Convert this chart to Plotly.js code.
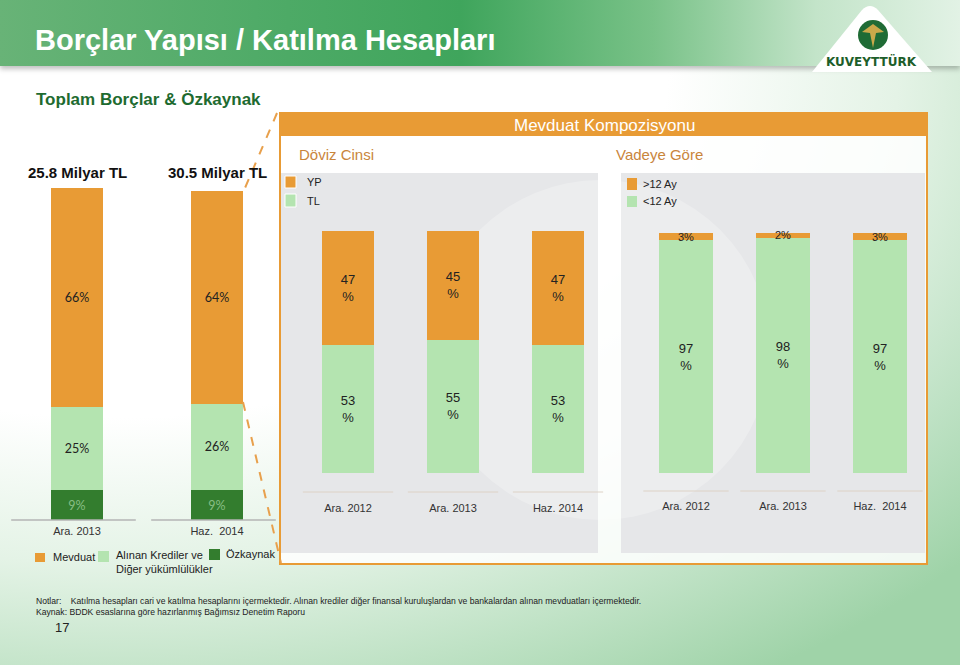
<!DOCTYPE html>
<html>
<head>
<meta charset="utf-8">
<script src="https://cdn.plot.ly/plotly-3.0.1.min.js"></script>
<style>
  html, body { margin: 0; padding: 0; }
  body {
    width: 960px; height: 665px; overflow: hidden; position: relative;
    background: radial-gradient(ellipse 120% 110% at 12% 10%, #ffffff 0%, #ffffff 48%, #e4f3e6 68%, #bfe2c5 85%, #9fd3a8 100%);
  }
  #header {
    position: absolute; left: 0; top: 0; width: 960px; height: 66px;
    background: linear-gradient(to right, #68b377 0%, #4daa66 30%, #3fa55c 48%, #79c288 68%, #c3e4c9 85%, #e2f2e5 100%);
    box-shadow: 0 3px 5px rgba(0, 0, 0, 0.25);
  }
  #chart { position: absolute; left: 0; top: 0; width: 960px; height: 665px; }
</style>
</head>
<body>
<div id="header"></div>
<div id="chart"></div>
<script>
document.addEventListener("DOMContentLoaded", function() {

  // Toplam Borçlar & Özkaynak
  const totalCats = ['Ara. 2013', 'Haz.  2014'];
  const totalTitles = ['25.8 Milyar TL', '30.5 Milyar TL'];
  const ozkaynak = [9, 9];
  const krediler = [25, 26];
  const mevduat = [66, 64];

  // Mevduat Kompozisyonu - Döviz Cinsi
  const dovizCats = ['Ara. 2012', 'Ara. 2013', 'Haz. 2014'];
  const tlShare = [53, 55, 53];
  const ypShare = [47, 45, 47];

  // Mevduat Kompozisyonu - Vadeye Göre
  const vadeCats = ['Ara. 2012', 'Ara. 2013', 'Haz.  2014'];
  const shortTerm = [97, 98, 97];
  const longTerm = [3, 2, 3];

  const ORANGE = '#e89b35';
  const LIGHT = '#b4e4b0';
  const DARK = '#337d2e';
  const PANEL = '#e6e7e9';
  const FONT = 'Liberation Sans, Arial, sans-serif';

  const W = 960, H = 665;
  const px = x => x / W;
  const py = y => 1 - y / H;

  const bar = (x, y, color, xa, ya, width, tmpl, font) => ({
    type: 'bar', x: x, y: y, xaxis: xa, yaxis: ya, width: width,
    marker: {color: color, line: {width: 0}},
    texttemplate: tmpl, textposition: 'inside', insidetextanchor: 'middle',
    constraintext: 'none', textangle: 0, textfont: font,
    hoverinfo: 'skip', cliponaxis: false
  });

  const leftFont = {family: 'Lato, Open Sans, sans-serif', size: 12.5, color: '#222'};
  const midFont = {family: FONT, size: 13, color: '#222'};

  const data = [
    bar(totalCats, ozkaynak, DARK, 'x', 'y', 0.37, '%{y}%', {family: 'Lato, sans-serif', size: 12.5, color: '#88bd84'}),
    bar(totalCats, krediler, LIGHT, 'x', 'y', 0.37, '%{y}%', leftFont),
    bar(totalCats, mevduat, ORANGE, 'x', 'y', 0.37, '%{y}%', leftFont),
    bar(dovizCats, tlShare, LIGHT, 'x2', 'y2', 0.5, '%{y}<br>%', midFont),
    bar(dovizCats, ypShare, ORANGE, 'x2', 'y2', 0.5, '%{y}<br>%', midFont),
    bar(vadeCats, shortTerm, LIGHT, 'x3', 'y3', 0.55, '%{y}<br>%', midFont),
    bar(vadeCats, longTerm, ORANGE, 'x3', 'y3', 0.55, '%{y}%', {family: FONT, size: 11, color: '#222'})
  ];

  const xBase = {type: 'category', showgrid: false, zeroline: false, showline: false,
    ticks: '', tickfont: {family: FONT, size: 11, color: '#333'}, fixedrange: true};
  const yBase = {visible: false, showgrid: false, zeroline: false, fixedrange: true};

  const shapes = [];
  const rect = (x0, y0, x1, y1, fill, line) => shapes.push({
    type: 'rect', xref: 'paper', yref: 'paper', layer: 'below',
    x0: px(x0), x1: px(x1), y0: py(y0), y1: py(y1),
    fillcolor: fill, line: line || {width: 0}
  });
  const seg = (x0, y0, x1, y1, color, width, dash) => shapes.push({
    type: 'line', xref: 'paper', yref: 'paper', layer: 'above',
    x0: px(x0), x1: px(x1), y0: py(y0), y1: py(y1),
    line: {color: color, width: width, dash: dash || 'solid'}
  });

  // Logo
  shapes.push({type: 'path', xref: 'paper', yref: 'paper', layer: 'below',
    path: 'M ' + px(812) + ',' + py(72) + ' L ' + px(862) + ',' + py(10) + ' Q ' + px(870) + ',' + py(2) + ' ' + px(878) + ',' + py(10) +
      ' L ' + px(932) + ',' + py(72) + ' Z',
    fillcolor: '#ffffff', line: {width: 0}});
  shapes.push({type: 'circle', xref: 'paper', yref: 'paper', layer: 'below',
    x0: px(858), x1: px(888), y0: py(50), y1: py(20), fillcolor: '#1f6b35', line: {width: 0}});
  shapes.push({type: 'path', xref: 'paper', yref: 'paper', layer: 'below',
    path: 'M ' + px(873) + ',' + py(48) + ' L ' + px(870) + ',' + py(33) + ' L ' + px(862) + ',' + py(32) +
      ' L ' + px(873) + ',' + py(24) + ' L ' + px(884) + ',' + py(32) + ' L ' + px(876) + ',' + py(33) + ' Z',
    fillcolor: '#c9a94a', line: {width: 0}});

  // Mevduat Kompozisyonu box
  rect(280, 113, 927, 564, 'rgba(255,255,255,0.85)', {color: '#e89b35', width: 2});
  rect(280, 113, 927, 136, ORANGE);
  rect(281, 173, 598, 553, PANEL);
  rect(621, 173, 925, 553, PANEL);
  shapes.push({type: 'circle', xref: 'paper', yref: 'paper', layer: 'below',
    x0: px(430), x1: px(770), y0: py(520), y1: py(180), fillcolor: 'rgba(255,255,255,0.25)', line: {width: 0}});

  // legend squares
  rect(285, 176, 296, 188, ORANGE, {color: '#ffffff', width: 1});
  rect(285, 194, 296, 207, LIGHT, {color: '#ffffff', width: 1});
  rect(627, 178, 637, 190, ORANGE);
  rect(627, 196, 637, 207, LIGHT);
  rect(35, 553, 45, 562, ORANGE);
  rect(98, 551, 109, 562, LIGHT);
  rect(209, 549, 220, 560, DARK);

  // baselines under each bar
  totalCats.forEach((c, i) => shapes.push({type: 'line', xref: 'x', yref: 'y domain',
    x0: i - 0.47, x1: i + 0.42, y0: 0, y1: 0, line: {color: '#b5b5b5', width: 1.5}}));
  dovizCats.forEach((c, i) => shapes.push({type: 'line', xref: 'x2', yref: 'y2 domain',
    x0: i - 0.43, x1: i + 0.43, y0: 0, y1: 0, line: {color: '#ddd2c6', width: 1}}));
  vadeCats.forEach((c, i) => shapes.push({type: 'line', xref: 'x3', yref: 'y3 domain',
    x0: i - 0.44, x1: i + 0.44, y0: 0, y1: 0, line: {color: '#ddd2c6', width: 1}}));

  // zoom connectors
  seg(277, 113, 245, 188, '#e8a04c', 2, 'dash');
  seg(243, 402, 281, 563, '#e8a04c', 2, 'dash');

  const note = (text, x, y, size, color, extra) => Object.assign({
    text: text, x: px(x), y: py(y), xref: 'paper', yref: 'paper', showarrow: false,
    xanchor: 'left', yanchor: 'middle', font: {family: FONT, size: size, color: color}
  }, extra || {});

  const annotations = [
    note('Borçlar Yapısı / Katılma Hesapları', 33, 40, 29, '#ffffff', {font: {family: FONT, size: 29, color: '#ffffff', weight: 'bold'}}),
    note('KUVEYTTÜRK', 871, 62, 12, '#1d5e2a', {xanchor: 'center', font: {family: 'DejaVu Sans, sans-serif', size: 12, color: '#1d5e2a', weight: 'bold'}}),
    note('Toplam Borçlar & Özkaynak', 34, 99, 17, '#1e6b30', {font: {family: FONT, size: 17, color: '#1e6b30', weight: 'bold'}}),
    note('Mevduat Kompozisyonu', 604, 125, 17, '#ffffff', {xanchor: 'center'}),
    note('Döviz Cinsi', 297, 154, 15, '#c9853c'),
    note('Vadeye Göre', 614, 154, 15, '#c9853c'),
    note('YP', 305, 182, 11, '#222'),
    note('TL', 305, 201, 11, '#222'),
    note('>12 Ay', 641, 184, 11, '#222'),
    note('<12 Ay', 641, 201, 11, '#222'),
    note('Mevduat', 51, 557, 11, '#222'),
    note('Alınan Krediler ve<br>Diğer yükümlülükler', 114, 562, 11, '#222', {align: 'left'}),
    note('Özkaynak', 224, 554, 11, '#222'),
    note('Notlar:    Katılma hesapları cari ve katılma hesaplarını içermektedir. Alınan krediler diğer finansal kuruluşlardan ve bankalardan alınan mevduatları içermektedir.', 34, 601, 8.6, '#222'),
    note('Kaynak: BDDK esaslarına göre hazırlanmış Bağımsız Denetim Raporu', 34, 612, 8.6, '#222'),
    note('17', 53, 627, 13, '#222')
  ];
  totalCats.forEach((c, i) => annotations.push({
    text: totalTitles[i], x: c, xref: 'x', y: py(172), yref: 'paper', showarrow: false,
    xanchor: 'center', yanchor: 'middle',
    font: {family: FONT, size: 15, color: '#111', weight: 'bold'}
  }));

  const layout = {
    width: W, height: H,
    margin: {l: 0, r: 0, t: 0, b: 0},
    paper_bgcolor: 'rgba(0,0,0,0)',
    plot_bgcolor: 'rgba(0,0,0,0)',
    barmode: 'stack',
    bargap: 0,
    showlegend: false,
    hovermode: false,
    xaxis: Object.assign({}, xBase, {domain: [px(7), px(287)], range: [-0.5, 1.5], anchor: 'y', ticklabelstandoff: 3}),
    yaxis: Object.assign({}, yBase, {domain: [py(520), py(188)], range: [0, 100], anchor: 'x'}),
    xaxis2: Object.assign({}, xBase, {domain: [px(295.5), px(610.5)], range: [-0.5, 2.5], anchor: 'y2', ticklabelstandoff: 8}),
    yaxis2: Object.assign({}, yBase, {domain: [py(492), py(231)], range: [-7.85, 100], anchor: 'x2'}),
    xaxis3: Object.assign({}, xBase, {domain: [px(637.5), px(928.5)], range: [-0.5, 2.5], anchor: 'y3', ticklabelstandoff: 7}),
    yaxis3: Object.assign({}, yBase, {domain: [py(491), py(233)], range: [-7.5, 100], anchor: 'x3'}),
    shapes: shapes,
    annotations: annotations
  };

  Plotly.newPlot('chart', data, layout, {displayModeBar: false, staticPlot: true});
});
</script>
</body>
</html>
